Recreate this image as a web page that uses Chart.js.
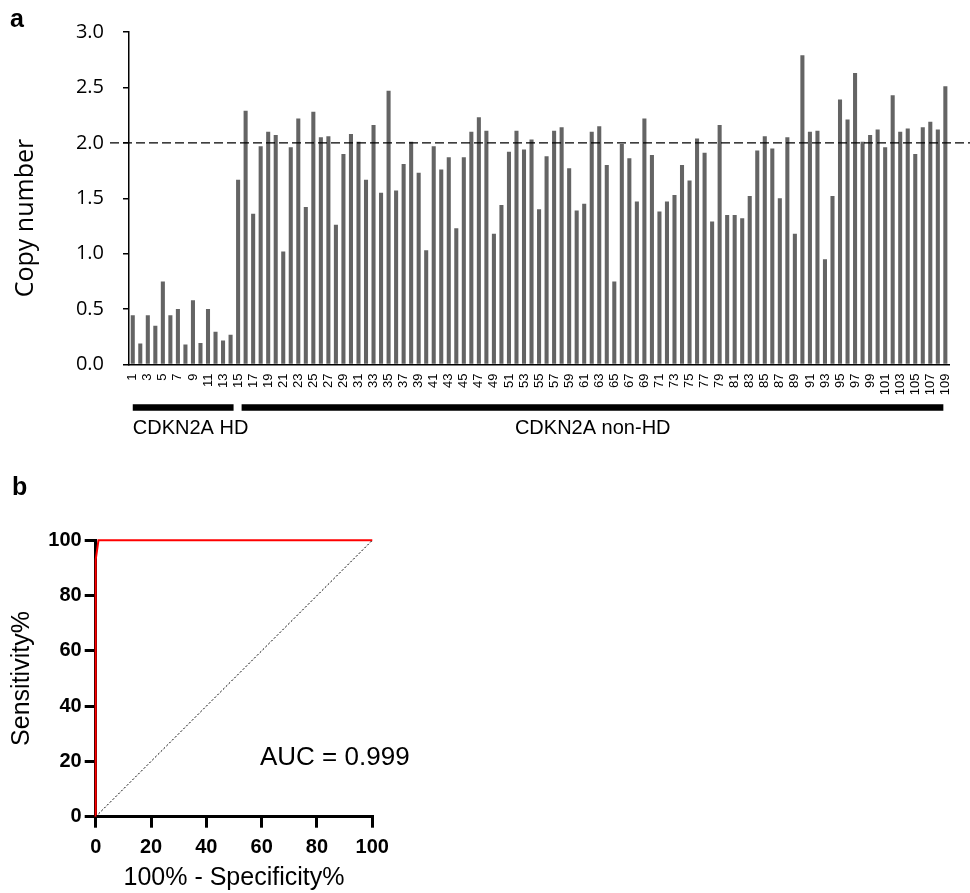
<!DOCTYPE html>
<html>
<head>
<meta charset="utf-8">
<script src="https://cdn.jsdelivr.net/npm/chart.js@4/dist/chart.umd.min.js"></script>
<style>
  body { margin: 0; background: #fff; }
  #wrap { position: relative; width: 970px; height: 893px; }
  canvas { position: absolute; left: 0; }
  #chartA { top: 0; }
  #chartB { top: 460px; }
  .panel { position: absolute; font: bold 25px "Liberation Sans", Arial, sans-serif; line-height: 1; }
</style>
</head>
<body>
<div id="wrap">
  <canvas id="chartA" width="970" height="460"></canvas>
  <canvas id="chartB" width="450" height="433"></canvas>
  <div class="panel" style="left:10px; top:6px;">a</div>
  <div class="panel" style="left:12px; top:474px;">b</div>
</div>
<script>
// panel a: copy number per sample
const sampleIds = [
  1, 2, 3, 4, 5, 6, 7, 8, 9, 10, 11, 12, 13, 14, 15, 16, 17, 18, 19, 20,
  21, 22, 23, 24, 25, 26, 27, 28, 29, 30, 31, 32, 33, 34, 35, 36, 37, 38, 39, 40,
  41, 42, 43, 44, 45, 46, 47, 48, 49, 50, 51, 52, 53, 54, 55, 56, 57, 58, 59, 60,
  61, 62, 63, 64, 65, 66, 67, 68, 69, 70, 71, 72, 73, 74, 75, 76, 77, 78, 79, 80,
  81, 82, 83, 84, 85, 86, 87, 88, 89, 90, 91, 92, 93, 94, 95, 96, 97, 98, 99, 100,
  101, 102, 103, 104, 105, 106, 107, 108, 109
];
const copyNumber = [
  0.445, 0.19, 0.445, 0.35, 0.75, 0.445, 0.50, 0.18, 0.58, 0.195,
  0.50, 0.295, 0.217, 0.268, 1.667, 2.29, 1.36, 1.97, 2.10, 2.07,
  1.02, 1.96, 2.22, 1.42, 2.28, 2.05, 2.06, 1.26, 1.90, 2.08,
  2.01, 1.667, 2.16, 1.55, 2.47, 1.57, 1.81, 2.01, 1.73, 1.03,
  1.97, 1.76, 1.87, 1.23, 1.87, 2.10, 2.23, 2.11, 1.18, 1.44,
  1.92, 2.11, 1.94, 2.03, 1.40, 1.88, 2.11, 2.14, 1.77, 1.39,
  1.45, 2.10, 2.15, 1.80, 0.75, 1.99, 1.86, 1.47, 2.22, 1.89,
  1.38, 1.47, 1.53, 1.80, 1.66, 2.04, 1.91, 1.29, 2.16, 1.35,
  1.35, 1.32, 1.52, 1.93, 2.06, 1.95, 1.50, 2.05, 1.18, 2.79,
  2.10, 2.11, 0.95, 1.52, 2.39, 2.21, 2.63, 2.01, 2.07, 2.12,
  1.96, 2.43, 2.10, 2.13, 1.90, 2.14, 2.19, 2.12, 2.51
];
const yTicksA = [0, 0.5, 1.0, 1.5, 2.0, 2.5, 3.0];
const refLevel = 2.0;
const groupNames = ['CDKN2A HD', 'CDKN2A non-HD'];
const groupFirst = [1, 15];
const groupLast = [14, 109];

// panel b: ROC curve
const rocFpr = [0, 0, 1, 100];
const rocTpr = [0, 93, 100, 100];
const chanceLine = [0, 100];
const rocTicks = [0, 20, 40, 60, 80, 100];
const aucLabel = 'AUC = 0.999';

const SANS = '"Liberation Sans", Arial, sans-serif';
const OPEN = '"Open Sans", "Liberation Sans", sans-serif';

// dashed 2.0 line, group bars and y title for panel a
const panelAExtras = {
  id: 'panelAExtras',
  afterDatasetsDraw(chart) {
    const { ctx, scales: { y } } = chart;
    const yRef = y.getPixelForValue(refLevel);
    ctx.save();
    ctx.strokeStyle = '#000';
    ctx.lineWidth = 1.3;
    ctx.setLineDash([9, 4]);
    ctx.beginPath();
    ctx.moveTo(110, yRef);
    ctx.lineTo(970, yRef);
    ctx.stroke();
    ctx.restore();
  },
  afterDraw(chart) {
    const { ctx, scales: { x } } = chart;
    const pos = id => x.getPixelForValue(sampleIds.indexOf(id));
    ctx.save();
    ctx.strokeStyle = '#000';
    ctx.lineWidth = 6.5;
    ctx.beginPath();
    ctx.moveTo(pos(groupFirst[0]), 407.5);
    ctx.lineTo(pos(groupLast[0]) + 3, 407.5);
    ctx.moveTo(pos(groupFirst[1]) + 3.5, 407.5);
    ctx.lineTo(pos(groupLast[1]) - 2, 407.5);
    ctx.stroke();

    ctx.fillStyle = '#000';
    ctx.font = '20px ' + SANS;
    ctx.textBaseline = 'alphabetic';
    ctx.textAlign = 'left';
    ctx.fillText(groupNames[0], pos(groupFirst[0]), 434);
    ctx.textAlign = 'center';
    ctx.fillText(groupNames[1], (pos(groupFirst[1]) + pos(groupLast[1])) / 2 + 1, 434);

    // y axis title
    ctx.translate(26, 218);
    ctx.rotate(-Math.PI / 2);
    ctx.font = '25px ' + OPEN;
    ctx.textBaseline = 'middle';
    ctx.fillText('Copy number', 0, 0);
    ctx.restore();
  }
};

new Chart(document.getElementById('chartA'), {
  type: 'bar',
  data: {
    labels: sampleIds.map(String),
    datasets: [{
      data: copyNumber,
      backgroundColor: '#646464',
      barPercentage: 0.54,
      categoryPercentage: 1
    }]
  },
  options: {
    responsive: false,
    animation: false,
    devicePixelRatio: 1,
    layout: { padding: { top: 32, right: 10, left: 0, bottom: 0 } },
    plugins: { legend: { display: false }, tooltip: { enabled: false } },
    scales: {
      x: {
        grid: { drawOnChartArea: false, drawTicks: false },
        border: { color: '#000', width: 1.5 },
        ticks: {
          autoSkip: false,
          minRotation: 90,
          maxRotation: 90,
          padding: 9,
          color: '#000',
          font: { family: SANS, size: 13 },
          callback: (v, i) => (sampleIds[i] % 2 === 1 ? String(sampleIds[i]) : '')
        },
        afterFit: s => { s.height = 95.5; }
      },
      y: {
        min: 0,
        max: 3,
        afterBuildTicks: s => { s.ticks = yTicksA.map(v => ({ value: v })); },
        grid: { drawOnChartArea: false, drawTicks: true, tickLength: 6, color: '#000', lineWidth: 1.5 },
        border: { color: '#000', width: 1.5 },
        ticks: {
          padding: 19,
          color: '#000',
          font: { family: OPEN, size: 20 },
          callback: v => v.toFixed(1)
        },
        afterFit: s => { s.width = 129; }
      }
    }
  },
  plugins: [panelAExtras]
});

// AUC annotation for panel b
const aucPlugin = {
  id: 'aucPlugin',
  afterDraw(chart) {
    const { ctx, scales: { x, y } } = chart;
    ctx.save();
    ctx.fillStyle = '#000';
    ctx.font = '26px ' + SANS;
    ctx.textAlign = 'left';
    ctx.textBaseline = 'alphabetic';
    ctx.fillText(aucLabel, x.getPixelForValue(59.4), y.getPixelForValue(18.7));
    ctx.restore();
  }
};

const axisB = (title, isX) => ({
  type: 'linear',
  min: 0,
  max: 100,
  afterBuildTicks: s => { s.ticks = rocTicks.map(v => ({ value: v })); },
  grid: { drawOnChartArea: false, drawTicks: true, tickLength: 11, color: '#000', lineWidth: 3 },
  border: { color: '#000', width: 3 },
  ticks: {
    padding: isX ? 8 : 3,
    color: '#000',
    font: { family: SANS, size: 20, weight: 'bold' }
  },
  title: {
    display: true,
    text: title,
    color: '#000',
    font: { family: SANS, size: 25 },
    padding: isX ? { top: 0, bottom: 0 } : { top: 7, bottom: 0 }
  },
  afterFit: s => { if (isX) s.height = 76.3; else s.width = 95.7; }
});

new Chart(document.getElementById('chartB'), {
  type: 'scatter',
  data: {
    datasets: [
      {
        data: chanceLine.map(v => ({ x: v, y: v })),
        showLine: true,
        borderColor: '#000',
        borderWidth: 1,
        borderDash: [2, 2],
        pointRadius: 0,
        clip: false
      },
      {
        data: rocFpr.map((v, i) => ({ x: v, y: rocTpr[i] })),
        showLine: true,
        borderColor: '#ff0000',
        borderWidth: 2,
        pointRadius: 0,
        clip: false
      }
    ]
  },
  options: {
    responsive: false,
    animation: false,
    devicePixelRatio: 1,
    layout: { padding: { top: 80.3, right: 77.7, left: 0, bottom: 0 } },
    plugins: { legend: { display: false }, tooltip: { enabled: false } },
    scales: {
      x: axisB('100% - Specificity%', true),
      y: axisB('Sensitivity%', false)
    }
  },
  plugins: [aucPlugin]
});
</script>
</body>
</html>
